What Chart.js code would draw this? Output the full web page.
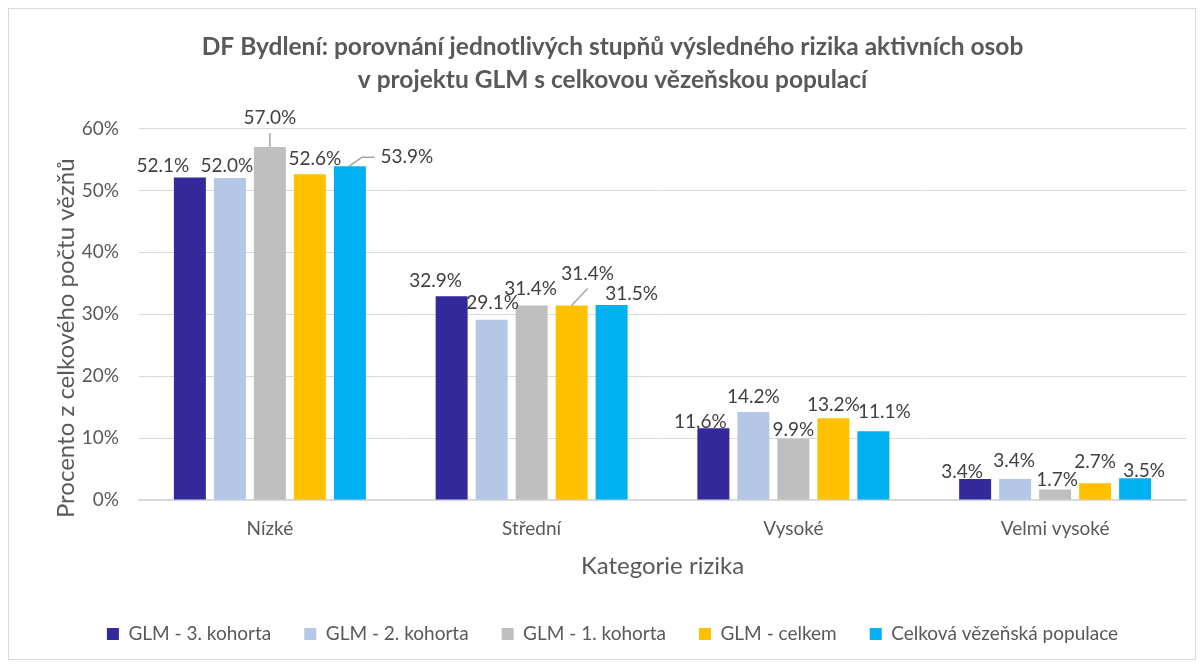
<!DOCTYPE html>
<html>
<head>
<meta charset="utf-8">
<script src="https://cdn.jsdelivr.net/npm/chart.js@4"></script>
<style>
    body { margin: 0; background: #fff; }
    #box { position: absolute; left: 8px; top: 8px; width: 1186px; height: 650px; border: 1px solid #D9D9D9; }
</style>
</head>
<body>
<div id="box"><canvas id="riskChart"></canvas></div>
<script>
const categories = ['Nízké', 'Střední', 'Vysoké', 'Velmi vysoké'];
const seriesNames = ['GLM - 3. kohorta', 'GLM - 2. kohorta', 'GLM - 1. kohorta', 'GLM - celkem', 'Celková vězeňská populace'];
const cohort3 = [52.1, 32.9, 11.6, 3.4];
const cohort2 = [52.0, 29.1, 14.2, 3.4];
const cohort1 = [57.0, 31.4, 9.9, 1.7];
const glmTotal = [52.6, 31.4, 13.2, 2.7];
const prisonPopulation = [53.9, 31.5, 11.1, 3.5];
const yTicks = [0, 10, 20, 30, 40, 50, 60];

const colors = ['#33299A', '#B4C7E7', '#BFBFBF', '#FFC000', '#00B0F0'];
const yTitle = 'Procento z celkového počtu vězňů';

// label nudges (px) per dataset / category, like the hand-dragged labels in the original
const labelShift = [
    [[-27, 2], [-16, -1], [-13, 8], [-13, 7]],
    [[-3, 2], [1, -3], [0, -1], [-1, -4]],
    [[0, -15], [-1, -3], [0, 5], [2, 4]],
    [[5, -1], [16, -18], [0, 1], [0, -7]],
    [[57, 5], [20, 3], [11, -5], [9, 7]]
];
// leader lines: [dataset, index, kind]
const leaders = [[2, 0, 'v'], [4, 0, 'elbow'], [3, 1, 'diag']];

const barLabels = {
    id: 'barLabels',
    afterDatasetsDraw(chart) {
        const ctx = chart.ctx;
        ctx.save();
        ctx.font = '19px Lato';
        ctx.fillStyle = '#404040';
        ctx.textAlign = 'center';
        ctx.textBaseline = 'middle';
        chart.data.datasets.forEach((ds, i) => {
            chart.getDatasetMeta(i).data.forEach((bar, j) => {
                const txt = ds.data[j].toFixed(1) + '%';
                const x = bar.x + labelShift[i][j][0];
                const y = bar.y - 14 + labelShift[i][j][1];
                ctx.fillText(txt, x, y);

                const l = leaders.find(d => d[0] === i && d[1] === j);
                if (l) {
                    const w = ctx.measureText(txt).width;
                    ctx.strokeStyle = '#A6A6A6';
                    ctx.lineWidth = 1.5;
                    ctx.beginPath();
                    if (l[2] === 'v') {
                        ctx.moveTo(bar.x, bar.y);
                        ctx.lineTo(bar.x, y + 15);
                    } else if (l[2] === 'elbow') {
                        ctx.moveTo(bar.x - 1, bar.y);
                        ctx.lineTo(bar.x + 12, y);
                        ctx.lineTo(x - w / 2 - 6, y);
                    } else {
                        ctx.moveTo(bar.x, bar.y);
                        ctx.lineTo(x, y + 15);
                    }
                    ctx.stroke();
                }
            });
        });
        ctx.restore();
    }
};

// y axis title sits a bit below the middle of the plot in the original
const yAxisTitle = {
    id: 'yAxisTitle',
    afterDraw(chart) {
        const ctx = chart.ctx;
        const a = chart.chartArea;
        ctx.save();
        ctx.translate(57, (a.top + a.bottom) / 2 + 24);
        ctx.rotate(-Math.PI / 2);
        ctx.font = '24px Lato';
        ctx.fillStyle = '#595959';
        ctx.textAlign = 'center';
        ctx.textBaseline = 'middle';
        ctx.fillText(yTitle, 0, 0);
        ctx.restore();
    }
};

const seriesData = [cohort3, cohort2, cohort1, glmTotal, prisonPopulation];

new Chart(document.getElementById('riskChart'), {
    type: 'bar',
    data: {
        labels: categories,
        datasets: seriesData.map((d, i) => ({
            label: seriesNames[i],
            data: d,
            backgroundColor: colors[i],
            barPercentage: 0.8,
            categoryPercentage: 0.764
        }))
    },
    options: {
        responsive: true,
        maintainAspectRatio: false,
        animation: false,
        layout: { padding: { left: 30, right: 9, top: 4, bottom: 5.5 } },
        scales: {
            x: {
                afterFit: (scale) => { scale.height = 91.5; },
                grid: { display: false, drawTicks: false },
                border: { color: '#D9D9D9', width: 1.5 },
                ticks: { color: '#595959', font: { family: 'Lato', size: 19 }, padding: 17 },
                title: {
                    display: true,
                    text: 'Kategorie rizika',
                    color: '#595959',
                    font: { family: 'Lato', size: 24 },
                    padding: { top: 0, bottom: 11 }
                }
            },
            y: {
                min: 0,
                max: 60,
                afterFit: (scale) => { scale.width = 100; },
                afterBuildTicks: (scale) => { scale.ticks = yTicks.map(v => ({ value: v })); },
                grid: { color: '#D9D9D9', drawTicks: false },
                border: { display: false },
                ticks: {
                    color: '#595959',
                    font: { family: 'Lato', size: 19 },
                    padding: 20,
                    callback: v => v + '%'
                }
            }
        },
        plugins: {
            title: {
                display: true,
                text: ['DF Bydlení: porovnání jednotlivých stupňů výsledného rizika aktivních osob', 'v projektu GLM s celkovou vězeňskou populací'],
                color: '#595959',
                font: { family: 'Lato', size: 24.5, weight: 'bold', lineHeight: 33 / 24.5 },
                padding: { top: 17.5, bottom: 32 }
            },
            legend: {
                position: 'bottom',
                labels: {
                    color: '#595959',
                    font: { family: 'Lato', size: 19 },
                    boxWidth: 12,
                    boxHeight: 12,
                    padding: 33
                }
            },
            tooltip: { enabled: false }
        }
    },
    plugins: [barLabels, yAxisTitle]
});
</script>
</body>
</html>
